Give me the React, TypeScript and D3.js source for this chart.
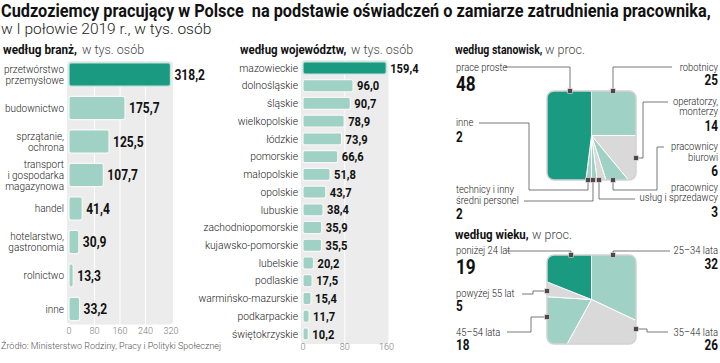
import React from "react";
import * as d3 from "d3";

// ---------- DATA ----------
const sectorLabels = [
  "przetwórstwo\nprzemysłowe",
  "budownictwo",
  "sprzątanie,\nochrona",
  "transport\ni gospodarka\nmagazynowa",
  "handel",
  "hotelarstwo,\ngastronomia",
  "rolnictwo",
  "inne",
];
const sectorValues = [318.2, 175.7, 125.5, 107.7, 41.4, 30.9, 13.3, 33.2];
const sectorTicks = [0, 80, 160, 240, 320];

const regionLabels = [
  "mazowieckie", "dolnośląskie", "śląskie", "wielkopolskie", "łódzkie", "pomorskie",
  "małopolskie", "opolskie", "lubuskie", "zachodniopomorskie", "kujawsko-pomorskie",
  "lubelskie", "podlaskie", "warmińsko-mazurskie", "podkarpackie", "świętokrzyskie",
];
const regionValues = [159.4, 96.0, 90.7, 78.9, 73.9, 66.6, 51.8, 43.7, 38.4, 35.9, 35.5, 20.2, 17.5, 15.4, 11.7, 10.2];
const regionTicks = [0, 80, 160];

// clockwise from 12 o'clock
const jobLabels = ["robotnicy", "operatorzy,\nmonterzy", "pracownicy\nbiurowi", "pracownicy\nusług i sprzedawcy", "technicy i inny\nśredni personel", "inne", "prace proste"];
const jobValues = [25, 14, 6, 3, 2, 2, 48];
const ageLabels = ["25–34 lata", "35–44 lata", "45–54 lata", "powyżej 55 lat", "poniżej 24 lat"];
const ageValues = [32, 26, 18, 5, 19];

// ---------- STYLE ----------
const FONT = "Roboto, 'Noto Sans', sans-serif";
const DG = "#1b9a82";
const LG = "#9fd1c4";
const GR = "#d9d9d9";
const TXT = "#222";

const fmt = (v: number) => d3.format(".1f")(v).replace(".", ",");

function T({ x, y, children, size = 11, weight = 400, anchor = "start", sx = 1, fill = TXT }: any) {
  return (
    <text
      transform={`translate(${x},${y}) scale(${sx},1)`}
      textAnchor={anchor}
      fontSize={size}
      fontWeight={weight}
      fill={fill}
      fontFamily={FONT}
      style={{ whiteSpace: "pre" }}
    >
      {children}
    </text>
  );
}

function BarPanel({ labels, values, ticks, domainMax, x0, x1, yTop, yBot, pad, labelX, labelSize, lineH, valSize, tickY, darkFirst }: any) {
  const x = d3.scaleLinear().domain([0, domainMax]).range([x0, x1]);
  const y = d3.scaleBand<number>().domain(d3.range(values.length)).range([yTop, yBot]).paddingInner(pad).paddingOuter(pad / 2);
  const bw = y.bandwidth();
  const panelTop = yTop + y.step() * pad / 2 - 2;
  const panelBot = yBot - y.step() * pad / 2 + 4;
  return (
    <g>
      <rect x={x(0) - 2} y={panelTop} width={x(domainMax) - x(0) + 4} height={panelBot - panelTop} rx={4} fill="#ececec" />
      {ticks.slice(1, -1).map((t: number) => (
        <line key={t} x1={x(t)} x2={x(t)} y1={panelTop} y2={panelBot} stroke="#fff" strokeWidth={1} />
      ))}
      {values.map((v: number, i: number) => {
        const cy = (y(i) as number) + bw / 2;
        const lines = labels[i].split("\n");
        return (
          <g key={i}>
            <rect x={x(0)} y={y(i)} width={x(v) - x(0)} height={bw} rx={2}
              fill={i === 0 && darkFirst ? DG : LG}
              stroke={i === 0 ? "#c4e3dc" : "#f7f7f7"} strokeWidth={1.2} />
            {lines.map((l: string, k: number) => (
              <T key={k} x={labelX} y={cy + (k - (lines.length - 1) / 2) * lineH + labelSize * 0.36} size={labelSize} weight={300} anchor="end">{l}</T>
            ))}
            <T x={x(v) + 4} y={cy + valSize * 0.36} size={valSize} weight={700} sx={0.86} fill="#111">{fmt(v)}</T>
          </g>
        );
      })}
      {ticks.map((t: number) => (
        <T key={t} x={x(t)} y={tickY} size={9} weight={300} anchor="middle" fill="#777">{t}</T>
      ))}
    </g>
  );
}

function SquarePie({ id, labels, values, colors, x0, y0, size, annots }: any) {
  const cx = x0 + size / 2;
  const cy = y0 + size / 2;
  const arcs = d3.pie<number>().sort(null).value((d) => d)(values);
  const arc = d3.arc<d3.PieArcDatum<number>>().innerRadius(0).outerRadius(size);
  return (
    <g>
      <defs>
        <clipPath id={id}>
          <rect x={x0} y={y0} width={size} height={size} rx={7} />
        </clipPath>
      </defs>
      <g clipPath={`url(#${id})`}>
        <g transform={`translate(${cx},${cy})`}>
          {arcs.map((a, i) => (
            <path key={i} d={arc(a) || ""} fill={colors[i]} stroke="#fff" strokeWidth={1} />
          ))}
        </g>
      </g>
      <rect x={x0} y={y0} width={size} height={size} rx={7} fill="none" stroke="#d2d2d2" strokeWidth={1.5} />
      {annots.map((a: any, i: number) => (
        <g key={i}>
          <polyline points={a.path.map((p: number[]) => p.join(",")).join(" ")} fill="none" stroke="#555" strokeWidth={0.8} />
          <rect x={a.marker[0] - 2.3} y={a.marker[1] - 2.3} width={4.6} height={4.6} fill="#4a4a4a" stroke="#ead6d6" strokeWidth={0.6} />
          {labels[i].split("\n").map((l: string, k: number) => (
            <T key={k} x={a.tx} y={a.ty + k * 10.5} size={10.2} weight={300} anchor={a.anchor} sx={0.92}>{l}</T>
          ))}
          <T x={a.tx} y={a.vy} size={a.big ? 20.5 : 14} weight={700} anchor={a.anchor} sx={0.84} fill="#111">{values[i]}</T>
        </g>
      ))}
    </g>
  );
}

export default function App() {
  const jobAnnots = [
    { tx: 718, ty: 70.5, vy: 84.5, anchor: "end", marker: [613, 91], path: [[672, 67], [613, 67], [613, 91]] },
    { tx: 718, ty: 104.5, vy: 130.5, anchor: "end", marker: [636, 158], path: [[668, 102], [643, 102], [643, 158], [636, 158]] },
    { tx: 718, ty: 150, vy: 175.5, anchor: "end", marker: [613, 180], path: [[664, 147], [657, 147], [657, 190], [613, 190], [613, 180]] },
    { tx: 718, ty: 190.5, vy: 217, anchor: "end", marker: [599, 180], path: [[599, 180], [599, 199], [635, 199]] },
    { tx: 456, ty: 193, vy: 219, anchor: "start", marker: [593, 180], path: [[524, 201], [593, 201], [593, 180]] },
    { tx: 456, ty: 126, vy: 142, anchor: "start", marker: [588, 180], path: [[479, 123], [529, 123], [529, 190], [588, 190], [588, 180]] },
    { tx: 456, ty: 70.5, vy: 90.5, anchor: "start", big: true, marker: [570, 91], path: [[505, 67], [570, 67], [570, 91]] },
  ];
  const ageAnnots = [
    { tx: 718, ty: 254, vy: 268.5, anchor: "end", marker: [613, 255], path: [[670, 251], [613, 251], [613, 255]] },
    { tx: 718, ty: 335.5, vy: 350, anchor: "end", marker: [636, 329], path: [[668, 332], [647, 332], [647, 329], [636, 329]] },
    { tx: 456, ty: 335.5, vy: 350, anchor: "start", marker: [547, 317], path: [[507, 332], [531, 332], [531, 317], [547, 317]] },
    { tx: 456, ty: 296.5, vy: 311, anchor: "start", marker: [547, 291], path: [[522, 294], [533, 294], [533, 291], [547, 291]] },
    { tx: 456, ty: 253.5, vy: 274, anchor: "start", big: true, marker: [571, 255], path: [[507, 251], [571, 251], [571, 255]] },
  ];

  return (
    <svg width={720} height={363} style={{ position: "absolute", left: 0, top: 0, background: "#fff" }}>
      {/* title */}
      <T x={1} y={17} size={18} weight={700} sx={0.905} fill="#111">{"Cudzoziemcy pracujący w Polsce  na podstawie oświadczeń o zamiarze zatrudnienia pracownika,"}</T>
      <T x={1} y={34} size={15.5} weight={300} fill="#222">w I połowie 2019 r., w tys. osób</T>

      {/* section headers */}
      <T x={3} y={54} size={12.8} weight={700} sx={0.92} fill="#111">według branż,</T>
      <T x={82} y={54} size={12.5} weight={300} fill="#444">w tys. osób</T>
      <T x={240} y={54} size={12.5} weight={700} sx={0.92} fill="#111">według województw,</T>
      <T x={351} y={54} size={12.5} weight={300} fill="#444">w tys. osób</T>
      <T x={455} y={54} size={12.5} weight={700} sx={0.84} fill="#111">według stanowisk,</T>
      <T x={545} y={54} size={12.5} weight={300} fill="#444">w proc.</T>
      <T x={455} y={239} size={12.5} weight={700} sx={0.92} fill="#111">według wieku,</T>
      <T x={532} y={239} size={12.5} weight={300} fill="#444">w proc.</T>

      <BarPanel labels={sectorLabels} values={sectorValues} ticks={sectorTicks} domainMax={320}
        x0={69} x1={171} yTop={57.75} yBot={325.75} pad={0.31} labelX={64} labelSize={10} lineH={11}
        valSize={14} tickY={334} darkFirst />
      <BarPanel labels={regionLabels} values={regionValues} ticks={regionTicks} domainMax={160}
        x0={303} x1={386.5} yTop={59.1} yBot={342.8} pad={0.32} labelX={298} labelSize={10.3} lineH={10}
        valSize={13} tickY={350} darkFirst />

      <SquarePie id="clip-job" labels={jobLabels} values={jobValues} colors={[LG, GR, LG, GR, LG, LG, DG]} x0={547} y0={91} size={89} annots={jobAnnots} />
      <SquarePie id="clip-age" labels={ageLabels} values={ageValues} colors={[LG, GR, LG, GR, DG]} x0={547} y0={255} size={89} annots={ageAnnots} />

      <T x={1} y={349} size={9} weight={300} fill="#555">Źródło: Ministerstwo Rodziny, Pracy i Polityki Społecznej</T>
    </svg>
  );
}
